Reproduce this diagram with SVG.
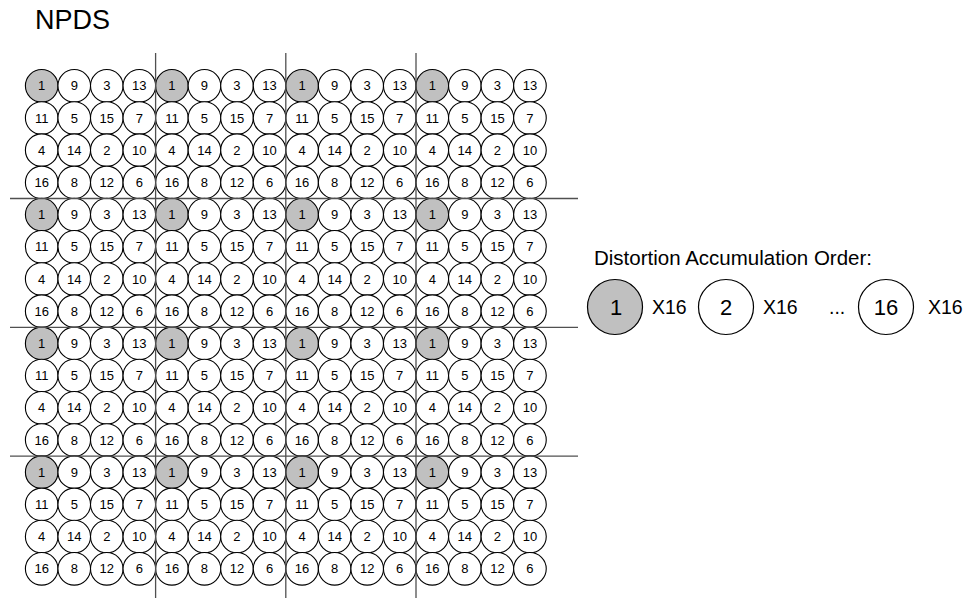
<svg xmlns="http://www.w3.org/2000/svg" width="967" height="599" viewBox="0 0 967 599">
<style>
.c{fill:#fff;stroke:#000;stroke-width:1.1}
.g{fill:#c0c0c0}
.t{font-family:"Liberation Sans",Arial,sans-serif;font-size:13px;text-anchor:middle;fill:#000}
.ln{stroke:#505050;stroke-width:1.3;fill:none}
.lg{font-family:"Liberation Sans",Arial,sans-serif;fill:#000}
.lc{fill:#fff;stroke:#000;stroke-width:1.2}
</style>
<rect width="967" height="599" fill="#fff"/>
<text class="lg" x="35" y="28.5" font-size="27">NPDS</text>

<g id="grid">
<g id="block-0-0" transform="translate(0,0)">
<g id="b00-1"><circle class="c g" cx="41.7" cy="85.8" r="16.3"/><text class="t" x="41.7" y="90.4">1</text></g>
<g id="b00-9"><circle class="c" cx="74.25" cy="85.8" r="16.3"/><text class="t" x="74.25" y="90.4">9</text></g>
<g id="b00-3"><circle class="c" cx="106.8" cy="85.8" r="16.3"/><text class="t" x="106.8" y="90.4">3</text></g>
<g id="b00-13"><circle class="c" cx="139.35" cy="85.8" r="16.3"/><text class="t" x="139.35" y="90.4">13</text></g>
<g id="b00-11"><circle class="c" cx="41.7" cy="118" r="16.3"/><text class="t" x="41.7" y="122.6">11</text></g>
<g id="b00-5"><circle class="c" cx="74.25" cy="118" r="16.3"/><text class="t" x="74.25" y="122.6">5</text></g>
<g id="b00-15"><circle class="c" cx="106.8" cy="118" r="16.3"/><text class="t" x="106.8" y="122.6">15</text></g>
<g id="b00-7"><circle class="c" cx="139.35" cy="118" r="16.3"/><text class="t" x="139.35" y="122.6">7</text></g>
<g id="b00-4"><circle class="c" cx="41.7" cy="150.2" r="16.3"/><text class="t" x="41.7" y="154.8">4</text></g>
<g id="b00-14"><circle class="c" cx="74.25" cy="150.2" r="16.3"/><text class="t" x="74.25" y="154.8">14</text></g>
<g id="b00-2"><circle class="c" cx="106.8" cy="150.2" r="16.3"/><text class="t" x="106.8" y="154.8">2</text></g>
<g id="b00-10"><circle class="c" cx="139.35" cy="150.2" r="16.3"/><text class="t" x="139.35" y="154.8">10</text></g>
<g id="b00-16"><circle class="c" cx="41.7" cy="182.4" r="16.3"/><text class="t" x="41.7" y="187">16</text></g>
<g id="b00-8"><circle class="c" cx="74.25" cy="182.4" r="16.3"/><text class="t" x="74.25" y="187">8</text></g>
<g id="b00-12"><circle class="c" cx="106.8" cy="182.4" r="16.3"/><text class="t" x="106.8" y="187">12</text></g>
<g id="b00-6"><circle class="c" cx="139.35" cy="182.4" r="16.3"/><text class="t" x="139.35" y="187">6</text></g>
</g>
<g id="block-0-1" transform="translate(130.2,0)">
<g id="b01-1"><circle class="c g" cx="41.7" cy="85.8" r="16.3"/><text class="t" x="41.7" y="90.4">1</text></g>
<g id="b01-9"><circle class="c" cx="74.25" cy="85.8" r="16.3"/><text class="t" x="74.25" y="90.4">9</text></g>
<g id="b01-3"><circle class="c" cx="106.8" cy="85.8" r="16.3"/><text class="t" x="106.8" y="90.4">3</text></g>
<g id="b01-13"><circle class="c" cx="139.35" cy="85.8" r="16.3"/><text class="t" x="139.35" y="90.4">13</text></g>
<g id="b01-11"><circle class="c" cx="41.7" cy="118" r="16.3"/><text class="t" x="41.7" y="122.6">11</text></g>
<g id="b01-5"><circle class="c" cx="74.25" cy="118" r="16.3"/><text class="t" x="74.25" y="122.6">5</text></g>
<g id="b01-15"><circle class="c" cx="106.8" cy="118" r="16.3"/><text class="t" x="106.8" y="122.6">15</text></g>
<g id="b01-7"><circle class="c" cx="139.35" cy="118" r="16.3"/><text class="t" x="139.35" y="122.6">7</text></g>
<g id="b01-4"><circle class="c" cx="41.7" cy="150.2" r="16.3"/><text class="t" x="41.7" y="154.8">4</text></g>
<g id="b01-14"><circle class="c" cx="74.25" cy="150.2" r="16.3"/><text class="t" x="74.25" y="154.8">14</text></g>
<g id="b01-2"><circle class="c" cx="106.8" cy="150.2" r="16.3"/><text class="t" x="106.8" y="154.8">2</text></g>
<g id="b01-10"><circle class="c" cx="139.35" cy="150.2" r="16.3"/><text class="t" x="139.35" y="154.8">10</text></g>
<g id="b01-16"><circle class="c" cx="41.7" cy="182.4" r="16.3"/><text class="t" x="41.7" y="187">16</text></g>
<g id="b01-8"><circle class="c" cx="74.25" cy="182.4" r="16.3"/><text class="t" x="74.25" y="187">8</text></g>
<g id="b01-12"><circle class="c" cx="106.8" cy="182.4" r="16.3"/><text class="t" x="106.8" y="187">12</text></g>
<g id="b01-6"><circle class="c" cx="139.35" cy="182.4" r="16.3"/><text class="t" x="139.35" y="187">6</text></g>
</g>
<g id="block-0-2" transform="translate(260.4,0)">
<g id="b02-1"><circle class="c g" cx="41.7" cy="85.8" r="16.3"/><text class="t" x="41.7" y="90.4">1</text></g>
<g id="b02-9"><circle class="c" cx="74.25" cy="85.8" r="16.3"/><text class="t" x="74.25" y="90.4">9</text></g>
<g id="b02-3"><circle class="c" cx="106.8" cy="85.8" r="16.3"/><text class="t" x="106.8" y="90.4">3</text></g>
<g id="b02-13"><circle class="c" cx="139.35" cy="85.8" r="16.3"/><text class="t" x="139.35" y="90.4">13</text></g>
<g id="b02-11"><circle class="c" cx="41.7" cy="118" r="16.3"/><text class="t" x="41.7" y="122.6">11</text></g>
<g id="b02-5"><circle class="c" cx="74.25" cy="118" r="16.3"/><text class="t" x="74.25" y="122.6">5</text></g>
<g id="b02-15"><circle class="c" cx="106.8" cy="118" r="16.3"/><text class="t" x="106.8" y="122.6">15</text></g>
<g id="b02-7"><circle class="c" cx="139.35" cy="118" r="16.3"/><text class="t" x="139.35" y="122.6">7</text></g>
<g id="b02-4"><circle class="c" cx="41.7" cy="150.2" r="16.3"/><text class="t" x="41.7" y="154.8">4</text></g>
<g id="b02-14"><circle class="c" cx="74.25" cy="150.2" r="16.3"/><text class="t" x="74.25" y="154.8">14</text></g>
<g id="b02-2"><circle class="c" cx="106.8" cy="150.2" r="16.3"/><text class="t" x="106.8" y="154.8">2</text></g>
<g id="b02-10"><circle class="c" cx="139.35" cy="150.2" r="16.3"/><text class="t" x="139.35" y="154.8">10</text></g>
<g id="b02-16"><circle class="c" cx="41.7" cy="182.4" r="16.3"/><text class="t" x="41.7" y="187">16</text></g>
<g id="b02-8"><circle class="c" cx="74.25" cy="182.4" r="16.3"/><text class="t" x="74.25" y="187">8</text></g>
<g id="b02-12"><circle class="c" cx="106.8" cy="182.4" r="16.3"/><text class="t" x="106.8" y="187">12</text></g>
<g id="b02-6"><circle class="c" cx="139.35" cy="182.4" r="16.3"/><text class="t" x="139.35" y="187">6</text></g>
</g>
<g id="block-0-3" transform="translate(390.6,0)">
<g id="b03-1"><circle class="c g" cx="41.7" cy="85.8" r="16.3"/><text class="t" x="41.7" y="90.4">1</text></g>
<g id="b03-9"><circle class="c" cx="74.25" cy="85.8" r="16.3"/><text class="t" x="74.25" y="90.4">9</text></g>
<g id="b03-3"><circle class="c" cx="106.8" cy="85.8" r="16.3"/><text class="t" x="106.8" y="90.4">3</text></g>
<g id="b03-13"><circle class="c" cx="139.35" cy="85.8" r="16.3"/><text class="t" x="139.35" y="90.4">13</text></g>
<g id="b03-11"><circle class="c" cx="41.7" cy="118" r="16.3"/><text class="t" x="41.7" y="122.6">11</text></g>
<g id="b03-5"><circle class="c" cx="74.25" cy="118" r="16.3"/><text class="t" x="74.25" y="122.6">5</text></g>
<g id="b03-15"><circle class="c" cx="106.8" cy="118" r="16.3"/><text class="t" x="106.8" y="122.6">15</text></g>
<g id="b03-7"><circle class="c" cx="139.35" cy="118" r="16.3"/><text class="t" x="139.35" y="122.6">7</text></g>
<g id="b03-4"><circle class="c" cx="41.7" cy="150.2" r="16.3"/><text class="t" x="41.7" y="154.8">4</text></g>
<g id="b03-14"><circle class="c" cx="74.25" cy="150.2" r="16.3"/><text class="t" x="74.25" y="154.8">14</text></g>
<g id="b03-2"><circle class="c" cx="106.8" cy="150.2" r="16.3"/><text class="t" x="106.8" y="154.8">2</text></g>
<g id="b03-10"><circle class="c" cx="139.35" cy="150.2" r="16.3"/><text class="t" x="139.35" y="154.8">10</text></g>
<g id="b03-16"><circle class="c" cx="41.7" cy="182.4" r="16.3"/><text class="t" x="41.7" y="187">16</text></g>
<g id="b03-8"><circle class="c" cx="74.25" cy="182.4" r="16.3"/><text class="t" x="74.25" y="187">8</text></g>
<g id="b03-12"><circle class="c" cx="106.8" cy="182.4" r="16.3"/><text class="t" x="106.8" y="187">12</text></g>
<g id="b03-6"><circle class="c" cx="139.35" cy="182.4" r="16.3"/><text class="t" x="139.35" y="187">6</text></g>
</g>

<g id="block-1-0" transform="translate(0,128.8)">
<g id="b10-1"><circle class="c g" cx="41.7" cy="85.8" r="16.3"/><text class="t" x="41.7" y="90.4">1</text></g>
<g id="b10-9"><circle class="c" cx="74.25" cy="85.8" r="16.3"/><text class="t" x="74.25" y="90.4">9</text></g>
<g id="b10-3"><circle class="c" cx="106.8" cy="85.8" r="16.3"/><text class="t" x="106.8" y="90.4">3</text></g>
<g id="b10-13"><circle class="c" cx="139.35" cy="85.8" r="16.3"/><text class="t" x="139.35" y="90.4">13</text></g>
<g id="b10-11"><circle class="c" cx="41.7" cy="118" r="16.3"/><text class="t" x="41.7" y="122.6">11</text></g>
<g id="b10-5"><circle class="c" cx="74.25" cy="118" r="16.3"/><text class="t" x="74.25" y="122.6">5</text></g>
<g id="b10-15"><circle class="c" cx="106.8" cy="118" r="16.3"/><text class="t" x="106.8" y="122.6">15</text></g>
<g id="b10-7"><circle class="c" cx="139.35" cy="118" r="16.3"/><text class="t" x="139.35" y="122.6">7</text></g>
<g id="b10-4"><circle class="c" cx="41.7" cy="150.2" r="16.3"/><text class="t" x="41.7" y="154.8">4</text></g>
<g id="b10-14"><circle class="c" cx="74.25" cy="150.2" r="16.3"/><text class="t" x="74.25" y="154.8">14</text></g>
<g id="b10-2"><circle class="c" cx="106.8" cy="150.2" r="16.3"/><text class="t" x="106.8" y="154.8">2</text></g>
<g id="b10-10"><circle class="c" cx="139.35" cy="150.2" r="16.3"/><text class="t" x="139.35" y="154.8">10</text></g>
<g id="b10-16"><circle class="c" cx="41.7" cy="182.4" r="16.3"/><text class="t" x="41.7" y="187">16</text></g>
<g id="b10-8"><circle class="c" cx="74.25" cy="182.4" r="16.3"/><text class="t" x="74.25" y="187">8</text></g>
<g id="b10-12"><circle class="c" cx="106.8" cy="182.4" r="16.3"/><text class="t" x="106.8" y="187">12</text></g>
<g id="b10-6"><circle class="c" cx="139.35" cy="182.4" r="16.3"/><text class="t" x="139.35" y="187">6</text></g>
</g>
<g id="block-1-1" transform="translate(130.2,128.8)">
<g id="b11-1"><circle class="c g" cx="41.7" cy="85.8" r="16.3"/><text class="t" x="41.7" y="90.4">1</text></g>
<g id="b11-9"><circle class="c" cx="74.25" cy="85.8" r="16.3"/><text class="t" x="74.25" y="90.4">9</text></g>
<g id="b11-3"><circle class="c" cx="106.8" cy="85.8" r="16.3"/><text class="t" x="106.8" y="90.4">3</text></g>
<g id="b11-13"><circle class="c" cx="139.35" cy="85.8" r="16.3"/><text class="t" x="139.35" y="90.4">13</text></g>
<g id="b11-11"><circle class="c" cx="41.7" cy="118" r="16.3"/><text class="t" x="41.7" y="122.6">11</text></g>
<g id="b11-5"><circle class="c" cx="74.25" cy="118" r="16.3"/><text class="t" x="74.25" y="122.6">5</text></g>
<g id="b11-15"><circle class="c" cx="106.8" cy="118" r="16.3"/><text class="t" x="106.8" y="122.6">15</text></g>
<g id="b11-7"><circle class="c" cx="139.35" cy="118" r="16.3"/><text class="t" x="139.35" y="122.6">7</text></g>
<g id="b11-4"><circle class="c" cx="41.7" cy="150.2" r="16.3"/><text class="t" x="41.7" y="154.8">4</text></g>
<g id="b11-14"><circle class="c" cx="74.25" cy="150.2" r="16.3"/><text class="t" x="74.25" y="154.8">14</text></g>
<g id="b11-2"><circle class="c" cx="106.8" cy="150.2" r="16.3"/><text class="t" x="106.8" y="154.8">2</text></g>
<g id="b11-10"><circle class="c" cx="139.35" cy="150.2" r="16.3"/><text class="t" x="139.35" y="154.8">10</text></g>
<g id="b11-16"><circle class="c" cx="41.7" cy="182.4" r="16.3"/><text class="t" x="41.7" y="187">16</text></g>
<g id="b11-8"><circle class="c" cx="74.25" cy="182.4" r="16.3"/><text class="t" x="74.25" y="187">8</text></g>
<g id="b11-12"><circle class="c" cx="106.8" cy="182.4" r="16.3"/><text class="t" x="106.8" y="187">12</text></g>
<g id="b11-6"><circle class="c" cx="139.35" cy="182.4" r="16.3"/><text class="t" x="139.35" y="187">6</text></g>
</g>
<g id="block-1-2" transform="translate(260.4,128.8)">
<g id="b12-1"><circle class="c g" cx="41.7" cy="85.8" r="16.3"/><text class="t" x="41.7" y="90.4">1</text></g>
<g id="b12-9"><circle class="c" cx="74.25" cy="85.8" r="16.3"/><text class="t" x="74.25" y="90.4">9</text></g>
<g id="b12-3"><circle class="c" cx="106.8" cy="85.8" r="16.3"/><text class="t" x="106.8" y="90.4">3</text></g>
<g id="b12-13"><circle class="c" cx="139.35" cy="85.8" r="16.3"/><text class="t" x="139.35" y="90.4">13</text></g>
<g id="b12-11"><circle class="c" cx="41.7" cy="118" r="16.3"/><text class="t" x="41.7" y="122.6">11</text></g>
<g id="b12-5"><circle class="c" cx="74.25" cy="118" r="16.3"/><text class="t" x="74.25" y="122.6">5</text></g>
<g id="b12-15"><circle class="c" cx="106.8" cy="118" r="16.3"/><text class="t" x="106.8" y="122.6">15</text></g>
<g id="b12-7"><circle class="c" cx="139.35" cy="118" r="16.3"/><text class="t" x="139.35" y="122.6">7</text></g>
<g id="b12-4"><circle class="c" cx="41.7" cy="150.2" r="16.3"/><text class="t" x="41.7" y="154.8">4</text></g>
<g id="b12-14"><circle class="c" cx="74.25" cy="150.2" r="16.3"/><text class="t" x="74.25" y="154.8">14</text></g>
<g id="b12-2"><circle class="c" cx="106.8" cy="150.2" r="16.3"/><text class="t" x="106.8" y="154.8">2</text></g>
<g id="b12-10"><circle class="c" cx="139.35" cy="150.2" r="16.3"/><text class="t" x="139.35" y="154.8">10</text></g>
<g id="b12-16"><circle class="c" cx="41.7" cy="182.4" r="16.3"/><text class="t" x="41.7" y="187">16</text></g>
<g id="b12-8"><circle class="c" cx="74.25" cy="182.4" r="16.3"/><text class="t" x="74.25" y="187">8</text></g>
<g id="b12-12"><circle class="c" cx="106.8" cy="182.4" r="16.3"/><text class="t" x="106.8" y="187">12</text></g>
<g id="b12-6"><circle class="c" cx="139.35" cy="182.4" r="16.3"/><text class="t" x="139.35" y="187">6</text></g>
</g>
<g id="block-1-3" transform="translate(390.6,128.8)">
<g id="b13-1"><circle class="c g" cx="41.7" cy="85.8" r="16.3"/><text class="t" x="41.7" y="90.4">1</text></g>
<g id="b13-9"><circle class="c" cx="74.25" cy="85.8" r="16.3"/><text class="t" x="74.25" y="90.4">9</text></g>
<g id="b13-3"><circle class="c" cx="106.8" cy="85.8" r="16.3"/><text class="t" x="106.8" y="90.4">3</text></g>
<g id="b13-13"><circle class="c" cx="139.35" cy="85.8" r="16.3"/><text class="t" x="139.35" y="90.4">13</text></g>
<g id="b13-11"><circle class="c" cx="41.7" cy="118" r="16.3"/><text class="t" x="41.7" y="122.6">11</text></g>
<g id="b13-5"><circle class="c" cx="74.25" cy="118" r="16.3"/><text class="t" x="74.25" y="122.6">5</text></g>
<g id="b13-15"><circle class="c" cx="106.8" cy="118" r="16.3"/><text class="t" x="106.8" y="122.6">15</text></g>
<g id="b13-7"><circle class="c" cx="139.35" cy="118" r="16.3"/><text class="t" x="139.35" y="122.6">7</text></g>
<g id="b13-4"><circle class="c" cx="41.7" cy="150.2" r="16.3"/><text class="t" x="41.7" y="154.8">4</text></g>
<g id="b13-14"><circle class="c" cx="74.25" cy="150.2" r="16.3"/><text class="t" x="74.25" y="154.8">14</text></g>
<g id="b13-2"><circle class="c" cx="106.8" cy="150.2" r="16.3"/><text class="t" x="106.8" y="154.8">2</text></g>
<g id="b13-10"><circle class="c" cx="139.35" cy="150.2" r="16.3"/><text class="t" x="139.35" y="154.8">10</text></g>
<g id="b13-16"><circle class="c" cx="41.7" cy="182.4" r="16.3"/><text class="t" x="41.7" y="187">16</text></g>
<g id="b13-8"><circle class="c" cx="74.25" cy="182.4" r="16.3"/><text class="t" x="74.25" y="187">8</text></g>
<g id="b13-12"><circle class="c" cx="106.8" cy="182.4" r="16.3"/><text class="t" x="106.8" y="187">12</text></g>
<g id="b13-6"><circle class="c" cx="139.35" cy="182.4" r="16.3"/><text class="t" x="139.35" y="187">6</text></g>
</g>

<g id="block-2-0" transform="translate(0,257.6)">
<g id="b20-1"><circle class="c g" cx="41.7" cy="85.8" r="16.3"/><text class="t" x="41.7" y="90.4">1</text></g>
<g id="b20-9"><circle class="c" cx="74.25" cy="85.8" r="16.3"/><text class="t" x="74.25" y="90.4">9</text></g>
<g id="b20-3"><circle class="c" cx="106.8" cy="85.8" r="16.3"/><text class="t" x="106.8" y="90.4">3</text></g>
<g id="b20-13"><circle class="c" cx="139.35" cy="85.8" r="16.3"/><text class="t" x="139.35" y="90.4">13</text></g>
<g id="b20-11"><circle class="c" cx="41.7" cy="118" r="16.3"/><text class="t" x="41.7" y="122.6">11</text></g>
<g id="b20-5"><circle class="c" cx="74.25" cy="118" r="16.3"/><text class="t" x="74.25" y="122.6">5</text></g>
<g id="b20-15"><circle class="c" cx="106.8" cy="118" r="16.3"/><text class="t" x="106.8" y="122.6">15</text></g>
<g id="b20-7"><circle class="c" cx="139.35" cy="118" r="16.3"/><text class="t" x="139.35" y="122.6">7</text></g>
<g id="b20-4"><circle class="c" cx="41.7" cy="150.2" r="16.3"/><text class="t" x="41.7" y="154.8">4</text></g>
<g id="b20-14"><circle class="c" cx="74.25" cy="150.2" r="16.3"/><text class="t" x="74.25" y="154.8">14</text></g>
<g id="b20-2"><circle class="c" cx="106.8" cy="150.2" r="16.3"/><text class="t" x="106.8" y="154.8">2</text></g>
<g id="b20-10"><circle class="c" cx="139.35" cy="150.2" r="16.3"/><text class="t" x="139.35" y="154.8">10</text></g>
<g id="b20-16"><circle class="c" cx="41.7" cy="182.4" r="16.3"/><text class="t" x="41.7" y="187">16</text></g>
<g id="b20-8"><circle class="c" cx="74.25" cy="182.4" r="16.3"/><text class="t" x="74.25" y="187">8</text></g>
<g id="b20-12"><circle class="c" cx="106.8" cy="182.4" r="16.3"/><text class="t" x="106.8" y="187">12</text></g>
<g id="b20-6"><circle class="c" cx="139.35" cy="182.4" r="16.3"/><text class="t" x="139.35" y="187">6</text></g>
</g>
<g id="block-2-1" transform="translate(130.2,257.6)">
<g id="b21-1"><circle class="c g" cx="41.7" cy="85.8" r="16.3"/><text class="t" x="41.7" y="90.4">1</text></g>
<g id="b21-9"><circle class="c" cx="74.25" cy="85.8" r="16.3"/><text class="t" x="74.25" y="90.4">9</text></g>
<g id="b21-3"><circle class="c" cx="106.8" cy="85.8" r="16.3"/><text class="t" x="106.8" y="90.4">3</text></g>
<g id="b21-13"><circle class="c" cx="139.35" cy="85.8" r="16.3"/><text class="t" x="139.35" y="90.4">13</text></g>
<g id="b21-11"><circle class="c" cx="41.7" cy="118" r="16.3"/><text class="t" x="41.7" y="122.6">11</text></g>
<g id="b21-5"><circle class="c" cx="74.25" cy="118" r="16.3"/><text class="t" x="74.25" y="122.6">5</text></g>
<g id="b21-15"><circle class="c" cx="106.8" cy="118" r="16.3"/><text class="t" x="106.8" y="122.6">15</text></g>
<g id="b21-7"><circle class="c" cx="139.35" cy="118" r="16.3"/><text class="t" x="139.35" y="122.6">7</text></g>
<g id="b21-4"><circle class="c" cx="41.7" cy="150.2" r="16.3"/><text class="t" x="41.7" y="154.8">4</text></g>
<g id="b21-14"><circle class="c" cx="74.25" cy="150.2" r="16.3"/><text class="t" x="74.25" y="154.8">14</text></g>
<g id="b21-2"><circle class="c" cx="106.8" cy="150.2" r="16.3"/><text class="t" x="106.8" y="154.8">2</text></g>
<g id="b21-10"><circle class="c" cx="139.35" cy="150.2" r="16.3"/><text class="t" x="139.35" y="154.8">10</text></g>
<g id="b21-16"><circle class="c" cx="41.7" cy="182.4" r="16.3"/><text class="t" x="41.7" y="187">16</text></g>
<g id="b21-8"><circle class="c" cx="74.25" cy="182.4" r="16.3"/><text class="t" x="74.25" y="187">8</text></g>
<g id="b21-12"><circle class="c" cx="106.8" cy="182.4" r="16.3"/><text class="t" x="106.8" y="187">12</text></g>
<g id="b21-6"><circle class="c" cx="139.35" cy="182.4" r="16.3"/><text class="t" x="139.35" y="187">6</text></g>
</g>
<g id="block-2-2" transform="translate(260.4,257.6)">
<g id="b22-1"><circle class="c g" cx="41.7" cy="85.8" r="16.3"/><text class="t" x="41.7" y="90.4">1</text></g>
<g id="b22-9"><circle class="c" cx="74.25" cy="85.8" r="16.3"/><text class="t" x="74.25" y="90.4">9</text></g>
<g id="b22-3"><circle class="c" cx="106.8" cy="85.8" r="16.3"/><text class="t" x="106.8" y="90.4">3</text></g>
<g id="b22-13"><circle class="c" cx="139.35" cy="85.8" r="16.3"/><text class="t" x="139.35" y="90.4">13</text></g>
<g id="b22-11"><circle class="c" cx="41.7" cy="118" r="16.3"/><text class="t" x="41.7" y="122.6">11</text></g>
<g id="b22-5"><circle class="c" cx="74.25" cy="118" r="16.3"/><text class="t" x="74.25" y="122.6">5</text></g>
<g id="b22-15"><circle class="c" cx="106.8" cy="118" r="16.3"/><text class="t" x="106.8" y="122.6">15</text></g>
<g id="b22-7"><circle class="c" cx="139.35" cy="118" r="16.3"/><text class="t" x="139.35" y="122.6">7</text></g>
<g id="b22-4"><circle class="c" cx="41.7" cy="150.2" r="16.3"/><text class="t" x="41.7" y="154.8">4</text></g>
<g id="b22-14"><circle class="c" cx="74.25" cy="150.2" r="16.3"/><text class="t" x="74.25" y="154.8">14</text></g>
<g id="b22-2"><circle class="c" cx="106.8" cy="150.2" r="16.3"/><text class="t" x="106.8" y="154.8">2</text></g>
<g id="b22-10"><circle class="c" cx="139.35" cy="150.2" r="16.3"/><text class="t" x="139.35" y="154.8">10</text></g>
<g id="b22-16"><circle class="c" cx="41.7" cy="182.4" r="16.3"/><text class="t" x="41.7" y="187">16</text></g>
<g id="b22-8"><circle class="c" cx="74.25" cy="182.4" r="16.3"/><text class="t" x="74.25" y="187">8</text></g>
<g id="b22-12"><circle class="c" cx="106.8" cy="182.4" r="16.3"/><text class="t" x="106.8" y="187">12</text></g>
<g id="b22-6"><circle class="c" cx="139.35" cy="182.4" r="16.3"/><text class="t" x="139.35" y="187">6</text></g>
</g>
<g id="block-2-3" transform="translate(390.6,257.6)">
<g id="b23-1"><circle class="c g" cx="41.7" cy="85.8" r="16.3"/><text class="t" x="41.7" y="90.4">1</text></g>
<g id="b23-9"><circle class="c" cx="74.25" cy="85.8" r="16.3"/><text class="t" x="74.25" y="90.4">9</text></g>
<g id="b23-3"><circle class="c" cx="106.8" cy="85.8" r="16.3"/><text class="t" x="106.8" y="90.4">3</text></g>
<g id="b23-13"><circle class="c" cx="139.35" cy="85.8" r="16.3"/><text class="t" x="139.35" y="90.4">13</text></g>
<g id="b23-11"><circle class="c" cx="41.7" cy="118" r="16.3"/><text class="t" x="41.7" y="122.6">11</text></g>
<g id="b23-5"><circle class="c" cx="74.25" cy="118" r="16.3"/><text class="t" x="74.25" y="122.6">5</text></g>
<g id="b23-15"><circle class="c" cx="106.8" cy="118" r="16.3"/><text class="t" x="106.8" y="122.6">15</text></g>
<g id="b23-7"><circle class="c" cx="139.35" cy="118" r="16.3"/><text class="t" x="139.35" y="122.6">7</text></g>
<g id="b23-4"><circle class="c" cx="41.7" cy="150.2" r="16.3"/><text class="t" x="41.7" y="154.8">4</text></g>
<g id="b23-14"><circle class="c" cx="74.25" cy="150.2" r="16.3"/><text class="t" x="74.25" y="154.8">14</text></g>
<g id="b23-2"><circle class="c" cx="106.8" cy="150.2" r="16.3"/><text class="t" x="106.8" y="154.8">2</text></g>
<g id="b23-10"><circle class="c" cx="139.35" cy="150.2" r="16.3"/><text class="t" x="139.35" y="154.8">10</text></g>
<g id="b23-16"><circle class="c" cx="41.7" cy="182.4" r="16.3"/><text class="t" x="41.7" y="187">16</text></g>
<g id="b23-8"><circle class="c" cx="74.25" cy="182.4" r="16.3"/><text class="t" x="74.25" y="187">8</text></g>
<g id="b23-12"><circle class="c" cx="106.8" cy="182.4" r="16.3"/><text class="t" x="106.8" y="187">12</text></g>
<g id="b23-6"><circle class="c" cx="139.35" cy="182.4" r="16.3"/><text class="t" x="139.35" y="187">6</text></g>
</g>

<g id="block-3-0" transform="translate(0,386.4)">
<g id="b30-1"><circle class="c g" cx="41.7" cy="85.8" r="16.3"/><text class="t" x="41.7" y="90.4">1</text></g>
<g id="b30-9"><circle class="c" cx="74.25" cy="85.8" r="16.3"/><text class="t" x="74.25" y="90.4">9</text></g>
<g id="b30-3"><circle class="c" cx="106.8" cy="85.8" r="16.3"/><text class="t" x="106.8" y="90.4">3</text></g>
<g id="b30-13"><circle class="c" cx="139.35" cy="85.8" r="16.3"/><text class="t" x="139.35" y="90.4">13</text></g>
<g id="b30-11"><circle class="c" cx="41.7" cy="118" r="16.3"/><text class="t" x="41.7" y="122.6">11</text></g>
<g id="b30-5"><circle class="c" cx="74.25" cy="118" r="16.3"/><text class="t" x="74.25" y="122.6">5</text></g>
<g id="b30-15"><circle class="c" cx="106.8" cy="118" r="16.3"/><text class="t" x="106.8" y="122.6">15</text></g>
<g id="b30-7"><circle class="c" cx="139.35" cy="118" r="16.3"/><text class="t" x="139.35" y="122.6">7</text></g>
<g id="b30-4"><circle class="c" cx="41.7" cy="150.2" r="16.3"/><text class="t" x="41.7" y="154.8">4</text></g>
<g id="b30-14"><circle class="c" cx="74.25" cy="150.2" r="16.3"/><text class="t" x="74.25" y="154.8">14</text></g>
<g id="b30-2"><circle class="c" cx="106.8" cy="150.2" r="16.3"/><text class="t" x="106.8" y="154.8">2</text></g>
<g id="b30-10"><circle class="c" cx="139.35" cy="150.2" r="16.3"/><text class="t" x="139.35" y="154.8">10</text></g>
<g id="b30-16"><circle class="c" cx="41.7" cy="182.4" r="16.3"/><text class="t" x="41.7" y="187">16</text></g>
<g id="b30-8"><circle class="c" cx="74.25" cy="182.4" r="16.3"/><text class="t" x="74.25" y="187">8</text></g>
<g id="b30-12"><circle class="c" cx="106.8" cy="182.4" r="16.3"/><text class="t" x="106.8" y="187">12</text></g>
<g id="b30-6"><circle class="c" cx="139.35" cy="182.4" r="16.3"/><text class="t" x="139.35" y="187">6</text></g>
</g>
<g id="block-3-1" transform="translate(130.2,386.4)">
<g id="b31-1"><circle class="c g" cx="41.7" cy="85.8" r="16.3"/><text class="t" x="41.7" y="90.4">1</text></g>
<g id="b31-9"><circle class="c" cx="74.25" cy="85.8" r="16.3"/><text class="t" x="74.25" y="90.4">9</text></g>
<g id="b31-3"><circle class="c" cx="106.8" cy="85.8" r="16.3"/><text class="t" x="106.8" y="90.4">3</text></g>
<g id="b31-13"><circle class="c" cx="139.35" cy="85.8" r="16.3"/><text class="t" x="139.35" y="90.4">13</text></g>
<g id="b31-11"><circle class="c" cx="41.7" cy="118" r="16.3"/><text class="t" x="41.7" y="122.6">11</text></g>
<g id="b31-5"><circle class="c" cx="74.25" cy="118" r="16.3"/><text class="t" x="74.25" y="122.6">5</text></g>
<g id="b31-15"><circle class="c" cx="106.8" cy="118" r="16.3"/><text class="t" x="106.8" y="122.6">15</text></g>
<g id="b31-7"><circle class="c" cx="139.35" cy="118" r="16.3"/><text class="t" x="139.35" y="122.6">7</text></g>
<g id="b31-4"><circle class="c" cx="41.7" cy="150.2" r="16.3"/><text class="t" x="41.7" y="154.8">4</text></g>
<g id="b31-14"><circle class="c" cx="74.25" cy="150.2" r="16.3"/><text class="t" x="74.25" y="154.8">14</text></g>
<g id="b31-2"><circle class="c" cx="106.8" cy="150.2" r="16.3"/><text class="t" x="106.8" y="154.8">2</text></g>
<g id="b31-10"><circle class="c" cx="139.35" cy="150.2" r="16.3"/><text class="t" x="139.35" y="154.8">10</text></g>
<g id="b31-16"><circle class="c" cx="41.7" cy="182.4" r="16.3"/><text class="t" x="41.7" y="187">16</text></g>
<g id="b31-8"><circle class="c" cx="74.25" cy="182.4" r="16.3"/><text class="t" x="74.25" y="187">8</text></g>
<g id="b31-12"><circle class="c" cx="106.8" cy="182.4" r="16.3"/><text class="t" x="106.8" y="187">12</text></g>
<g id="b31-6"><circle class="c" cx="139.35" cy="182.4" r="16.3"/><text class="t" x="139.35" y="187">6</text></g>
</g>
<g id="block-3-2" transform="translate(260.4,386.4)">
<g id="b32-1"><circle class="c g" cx="41.7" cy="85.8" r="16.3"/><text class="t" x="41.7" y="90.4">1</text></g>
<g id="b32-9"><circle class="c" cx="74.25" cy="85.8" r="16.3"/><text class="t" x="74.25" y="90.4">9</text></g>
<g id="b32-3"><circle class="c" cx="106.8" cy="85.8" r="16.3"/><text class="t" x="106.8" y="90.4">3</text></g>
<g id="b32-13"><circle class="c" cx="139.35" cy="85.8" r="16.3"/><text class="t" x="139.35" y="90.4">13</text></g>
<g id="b32-11"><circle class="c" cx="41.7" cy="118" r="16.3"/><text class="t" x="41.7" y="122.6">11</text></g>
<g id="b32-5"><circle class="c" cx="74.25" cy="118" r="16.3"/><text class="t" x="74.25" y="122.6">5</text></g>
<g id="b32-15"><circle class="c" cx="106.8" cy="118" r="16.3"/><text class="t" x="106.8" y="122.6">15</text></g>
<g id="b32-7"><circle class="c" cx="139.35" cy="118" r="16.3"/><text class="t" x="139.35" y="122.6">7</text></g>
<g id="b32-4"><circle class="c" cx="41.7" cy="150.2" r="16.3"/><text class="t" x="41.7" y="154.8">4</text></g>
<g id="b32-14"><circle class="c" cx="74.25" cy="150.2" r="16.3"/><text class="t" x="74.25" y="154.8">14</text></g>
<g id="b32-2"><circle class="c" cx="106.8" cy="150.2" r="16.3"/><text class="t" x="106.8" y="154.8">2</text></g>
<g id="b32-10"><circle class="c" cx="139.35" cy="150.2" r="16.3"/><text class="t" x="139.35" y="154.8">10</text></g>
<g id="b32-16"><circle class="c" cx="41.7" cy="182.4" r="16.3"/><text class="t" x="41.7" y="187">16</text></g>
<g id="b32-8"><circle class="c" cx="74.25" cy="182.4" r="16.3"/><text class="t" x="74.25" y="187">8</text></g>
<g id="b32-12"><circle class="c" cx="106.8" cy="182.4" r="16.3"/><text class="t" x="106.8" y="187">12</text></g>
<g id="b32-6"><circle class="c" cx="139.35" cy="182.4" r="16.3"/><text class="t" x="139.35" y="187">6</text></g>
</g>
<g id="block-3-3" transform="translate(390.6,386.4)">
<g id="b33-1"><circle class="c g" cx="41.7" cy="85.8" r="16.3"/><text class="t" x="41.7" y="90.4">1</text></g>
<g id="b33-9"><circle class="c" cx="74.25" cy="85.8" r="16.3"/><text class="t" x="74.25" y="90.4">9</text></g>
<g id="b33-3"><circle class="c" cx="106.8" cy="85.8" r="16.3"/><text class="t" x="106.8" y="90.4">3</text></g>
<g id="b33-13"><circle class="c" cx="139.35" cy="85.8" r="16.3"/><text class="t" x="139.35" y="90.4">13</text></g>
<g id="b33-11"><circle class="c" cx="41.7" cy="118" r="16.3"/><text class="t" x="41.7" y="122.6">11</text></g>
<g id="b33-5"><circle class="c" cx="74.25" cy="118" r="16.3"/><text class="t" x="74.25" y="122.6">5</text></g>
<g id="b33-15"><circle class="c" cx="106.8" cy="118" r="16.3"/><text class="t" x="106.8" y="122.6">15</text></g>
<g id="b33-7"><circle class="c" cx="139.35" cy="118" r="16.3"/><text class="t" x="139.35" y="122.6">7</text></g>
<g id="b33-4"><circle class="c" cx="41.7" cy="150.2" r="16.3"/><text class="t" x="41.7" y="154.8">4</text></g>
<g id="b33-14"><circle class="c" cx="74.25" cy="150.2" r="16.3"/><text class="t" x="74.25" y="154.8">14</text></g>
<g id="b33-2"><circle class="c" cx="106.8" cy="150.2" r="16.3"/><text class="t" x="106.8" y="154.8">2</text></g>
<g id="b33-10"><circle class="c" cx="139.35" cy="150.2" r="16.3"/><text class="t" x="139.35" y="154.8">10</text></g>
<g id="b33-16"><circle class="c" cx="41.7" cy="182.4" r="16.3"/><text class="t" x="41.7" y="187">16</text></g>
<g id="b33-8"><circle class="c" cx="74.25" cy="182.4" r="16.3"/><text class="t" x="74.25" y="187">8</text></g>
<g id="b33-12"><circle class="c" cx="106.8" cy="182.4" r="16.3"/><text class="t" x="106.8" y="187">12</text></g>
<g id="b33-6"><circle class="c" cx="139.35" cy="182.4" r="16.3"/><text class="t" x="139.35" y="187">6</text></g>
</g>
</g>

<g id="divider-lines">
<line class="ln" x1="155.6" y1="53" x2="155.6" y2="598"/>
<line class="ln" x1="285.8" y1="53" x2="285.8" y2="598"/>
<line class="ln" x1="416" y1="53" x2="416" y2="598"/>
<line class="ln" x1="10" y1="198.5" x2="578" y2="198.5"/>
<line class="ln" x1="10" y1="327.3" x2="578" y2="327.3"/>
<line class="ln" x1="10" y1="456.1" x2="578" y2="456.1"/>
</g>

<g id="legend">
<text class="lg" x="594" y="265" font-size="20.5">Distortion Accumulation Order:</text>
<g id="legend-1"><circle class="lc" cx="615" cy="307" r="27.5" fill="#c0c0c0" style="fill:#c0c0c0"/><text class="lg" x="616" y="315" font-size="22" text-anchor="middle">1</text></g>
<text class="lg" x="652" y="313.5" font-size="19.5">X16</text>
<g id="legend-2"><circle class="lc" cx="726" cy="307" r="27.5"/><text class="lg" x="726" y="315" font-size="22" text-anchor="middle">2</text></g>
<text class="lg" x="763" y="313.5" font-size="19.5">X16</text>
<text class="lg" x="829" y="313.5" font-size="19.5">...</text>
<g id="legend-16"><circle class="lc" cx="886" cy="307" r="27.5"/><text class="lg" x="886" y="315" font-size="22" text-anchor="middle">16</text></g>
<text class="lg" x="928" y="313.5" font-size="19.5">X16</text>
</g>
</svg>
